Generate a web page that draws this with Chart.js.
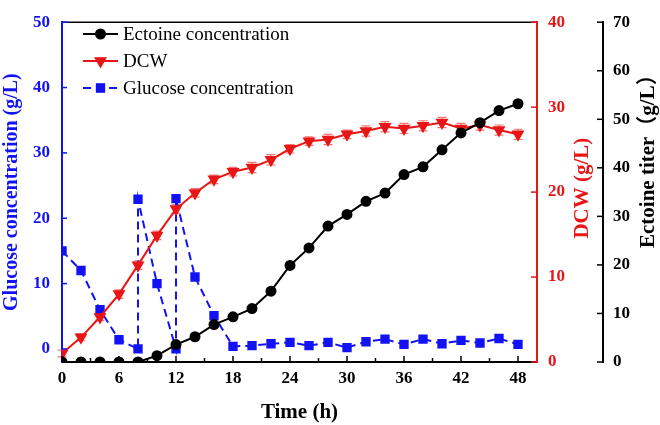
<!DOCTYPE html>
<html>
<head>
<meta charset="utf-8">
<script src="https://cdn.jsdelivr.net/npm/chart.js@4.4.1/dist/chart.umd.min.js"></script>
<style>
  html, body { margin: 0; padding: 0; background: #fff; }
  #chart { display: block; }
</style>
</head>
<body>
<canvas id="chart" width="660" height="425"></canvas>
<script>
// sampling times (h)
const timeH = [0, 2, 4, 6, 8, 10, 12, 14, 16, 18, 20, 22, 24, 26, 28, 30, 32, 34, 36, 38, 40, 42, 44, 46, 48];

// ectoine titer (g/L), right outer axis
const ectoine = [0, 0, 0, 0, 0, 1.3, 3.6, 5.2, 7.7, 9.3, 11.0, 14.6, 19.9, 23.5, 28.0,
  30.4, 33.1, 34.8, 38.6, 40.2, 43.7, 47.2, 49.3, 51.8, 53.2];

// dry cell weight (g/L) and its error
const dcw = [1.0, 2.9, 5.3, 8.0, 11.4, 14.9, 18.0, 19.9, 21.5, 22.4, 22.9, 23.8, 25.1, 26.0, 26.2,
  26.8, 27.2, 27.7, 27.5, 27.8, 28.2, 27.5, 27.9, 27.3, 26.8];
const dcwErr = [0.4, 0.4, 0.4, 0.5, 0.5, 0.5, 0.5, 0.5, 0.5, 0.5, 0.6, 0.6, 0.5, 0.5, 0.6,
  0.5, 0.6, 0.6, 0.6, 0.6, 0.6, 0.6, 0.6, 0.6, 0.6];

// glucose (g/L): two readings at 8 h and 12 h (before / after feeding)
const glucoseTime = [0, 2, 4, 6, 8, 8, 10, 12, 12, 14, 16, 18, 20, 22, 24, 26, 28, 30, 32, 34, 36, 38, 40, 42, 44, 46, 48];
const glucose = [15.0, 12.0, 6.0, 1.4, 0, 22.9, 10.0, 0, 23.0, 11.0, 5.1, 0.4, 0.5, 0.8, 1.0, 0.5, 1.0,
  0.2, 1.1, 1.5, 0.7, 1.5, 0.8, 1.3, 0.9, 1.6, 0.7];

// tick values
const xTicks = [0, 6, 12, 18, 24, 30, 36, 42, 48];
const xMinorTicks = [3, 9, 15, 21, 27, 33, 39, 45];
const glucoseTicks = [0, 10, 20, 30, 40, 50];
const dcwTicks = [0, 10, 20, 30, 40];
const ectoineTicks = [0, 10, 20, 30, 40, 50, 60, 70];

const BLUE = 'rgb(18,18,245)';
const RED = 'rgb(232,22,22)';
const BLACK = '#000';
const SERIF = '"Liberation Serif", "Times New Roman", serif';
const CLIP = { left: 0, top: 6, right: 6, bottom: 0 };

const setTicks = values => scale => { scale.ticks = values.map(v => ({ value: v })); };

// inward tick marks, top frame line, axis titles on the right
const framePlugin = {
  id: 'frame',
  afterDraw(chart) {
    const { ctx, chartArea, scales } = chart;
    const { left, right, top, bottom } = chartArea;
    ctx.save();
    ctx.lineWidth = 1.5;

    ctx.strokeStyle = BLACK;
    ctx.beginPath();
    ctx.moveTo(left, top);
    ctx.lineTo(right, top);
    ctx.stroke();

    xTicks.forEach(v => {
      const x = scales.x.getPixelForValue(v);
      ctx.beginPath(); ctx.moveTo(x, bottom); ctx.lineTo(x, bottom - 6); ctx.stroke();
    });
    xMinorTicks.forEach(v => {
      const x = scales.x.getPixelForValue(v);
      ctx.beginPath(); ctx.moveTo(x, bottom); ctx.lineTo(x, bottom - 4); ctx.stroke();
    });

    ctx.strokeStyle = BLUE;
    glucoseTicks.forEach(v => {
      const y = scales.yG.getPixelForValue(v);
      ctx.beginPath(); ctx.moveTo(left, y); ctx.lineTo(left + 5, y); ctx.stroke();
    });

    ctx.strokeStyle = RED;
    dcwTicks.forEach(v => {
      const y = scales.yD.getPixelForValue(v);
      ctx.beginPath(); ctx.moveTo(right, y); ctx.lineTo(right - 6, y); ctx.stroke();
    });

    ctx.strokeStyle = BLACK;
    const ex = scales.yE.left;
    ectoineTicks.forEach(v => {
      const y = scales.yE.getPixelForValue(v);
      ctx.beginPath(); ctx.moveTo(ex, y); ctx.lineTo(ex - 6, y); ctx.stroke();
    });

    // right-hand axis titles, read bottom to top
    ctx.textBaseline = 'middle';
    ctx.fillStyle = RED;
    ctx.font = 'bold 21px ' + SERIF;
    ctx.translate(583, (top + bottom) / 2 - 4);
    ctx.rotate(-Math.PI / 2);
    ctx.textAlign = 'center';
    ctx.fillText('DCW (g/L)', 0, 0);
    ctx.setTransform(1, 0, 0, 1, 0, 0);

    ctx.fillStyle = BLACK;
    ctx.font = 'bold 21px ' + SERIF + ', "Noto Sans CJK SC"';
    ctx.translate(649, 248);
    ctx.rotate(-Math.PI / 2);
    ctx.textAlign = 'left';
    ctx.fillText('Ectoine titer\uFF08g/L\uFF09', 0, 0);
    ctx.restore();
  }
};

// error bars for DCW
const errorBarPlugin = {
  id: 'errorBars',
  beforeDatasetsDraw(chart) {
    const { ctx, scales } = chart;
    ctx.save();
    ctx.strokeStyle = 'rgba(235,60,60,0.7)';
    ctx.lineWidth = 1.2;
    timeH.forEach((t, i) => {
      const x = scales.x.getPixelForValue(t);
      const y1 = scales.yD.getPixelForValue(dcw[i] - dcwErr[i]);
      const y2 = scales.yD.getPixelForValue(dcw[i] + dcwErr[i]);
      ctx.beginPath();
      ctx.moveTo(x, y1); ctx.lineTo(x, y2);
      ctx.moveTo(x - 4.5, y1); ctx.lineTo(x + 4.5, y1);
      ctx.moveTo(x - 4.5, y2); ctx.lineTo(x + 4.5, y2);
      ctx.stroke();
    });
    ctx.restore();
  }
};

// legend inside the plot, top-left
const legendPlugin = {
  id: 'insideLegend',
  afterDraw(chart) {
    const { ctx } = chart;
    const rows = [34, 61, 88];
    ctx.save();
    chart.data.datasets.forEach((ds, i) => {
      const y = rows[i];
      ctx.strokeStyle = ds.borderColor;
      ctx.lineWidth = ds.borderWidth;
      ctx.setLineDash(ds.borderDash || []);
      ctx.beginPath(); ctx.moveTo(83, y); ctx.lineTo(118, y); ctx.stroke();
      ctx.setLineDash([]);
      Chart.helpers.drawPoint(ctx, {
        pointStyle: ds.pointStyle,
        radius: ds.pointRadius,
        rotation: ds.pointRotation || 0,
        borderWidth: 1
      }, 100.5, y);
      ctx.fillStyle = ds.pointBackgroundColor;
      ctx.strokeStyle = ds.pointBorderColor;
      ctx.lineWidth = 1;
      ctx.fill();
      ctx.stroke();
      ctx.fillStyle = BLACK;
      ctx.font = '19px ' + SERIF;
      ctx.textAlign = 'left';
      ctx.textBaseline = 'middle';
      ctx.fillText(ds.label, 123, y + 1);
    });
    ctx.restore();
  }
};

new Chart(document.getElementById('chart'), {
  type: 'line',
  data: {
    datasets: [{
      label: 'Ectoine concentration',
      data: timeH.map((t, i) => ({ x: t, y: ectoine[i] })),
      yAxisID: 'yE',
      clip: CLIP,
      borderColor: BLACK,
      borderWidth: 2,
      pointStyle: 'circle',
      pointRadius: 4.5,
      pointBackgroundColor: BLACK,
      pointBorderColor: BLACK,
    }, {
      label: 'DCW',
      data: timeH.map((t, i) => ({ x: t, y: dcw[i] })),
      yAxisID: 'yD',
      clip: CLIP,
      borderColor: RED,
      borderWidth: 2,
      pointStyle: 'triangle',
      pointRotation: 180,
      pointRadius: 5.5,
      pointBackgroundColor: RED,
      pointBorderColor: RED,
    }, {
      label: 'Glucose concentration',
      data: glucoseTime.map((t, i) => ({ x: t, y: glucose[i] })),
      yAxisID: 'yG',
      clip: CLIP,
      borderColor: BLUE,
      borderWidth: 2,
      borderDash: [8, 5],
      pointStyle: 'rect',
      pointRadius: 5.2,
      pointBackgroundColor: BLUE,
      pointBorderColor: BLUE,
    }]
  },
  options: {
    responsive: false,
    animation: false,
    layout: { padding: { top: 10, left: 0, right: 0, bottom: 0 } },
    plugins: {
      legend: { display: false },
      tooltip: { enabled: false },
    },
    scales: {
      x: {
        type: 'linear',
        position: 'bottom',
        min: 0,
        max: 50,
        afterBuildTicks: setTicks(xTicks),
        afterFit: scale => { scale.height = 63; },
        ticks: { color: BLACK, padding: 6, font: { family: SERIF, size: 17, weight: 'bold' } },
        grid: { drawOnChartArea: false, drawTicks: false },
        border: { color: BLACK, width: 2 },
        title: {
          display: true,
          text: 'Time (h)',
          color: BLACK,
          padding: 0,
          font: { family: SERIF, size: 21, weight: 'bold' },
        },
      },
      yG: {
        type: 'linear',
        position: 'left',
        min: -2,
        max: 50,
        afterBuildTicks: setTicks(glucoseTicks),
        afterFit: scale => { scale.width = 62; },
        ticks: { color: BLUE, padding: 12, font: { family: SERIF, size: 17, weight: 'bold' } },
        grid: { drawOnChartArea: false, drawTicks: false },
        border: { color: BLUE, width: 2 },
        title: {
          display: true,
          text: 'Glucose concentration (g/L)',
          color: BLUE,
          padding: 0,
          font: { family: SERIF, size: 20, weight: 'bold' },
        },
      },
      yD: {
        type: 'linear',
        position: 'right',
        min: 0,
        max: 40,
        afterBuildTicks: setTicks(dcwTicks),
        afterFit: scale => { scale.width = 66; },
        ticks: { color: RED, padding: 11, font: { family: SERIF, size: 17, weight: 'bold' } },
        grid: { drawOnChartArea: false, drawTicks: false },
        border: { color: RED, width: 2 },
      },
      yE: {
        type: 'linear',
        position: 'right',
        min: 0,
        max: 70,
        afterBuildTicks: setTicks(ectoineTicks),
        afterFit: scale => { scale.width = 57; },
        ticks: { color: BLACK, padding: 10, font: { family: SERIF, size: 17, weight: 'bold' } },
        grid: { drawOnChartArea: false, drawTicks: false },
        border: { color: BLACK, width: 2 },
      },
    },
  },
  plugins: [errorBarPlugin, framePlugin, legendPlugin],
});
</script>
</body>
</html>
